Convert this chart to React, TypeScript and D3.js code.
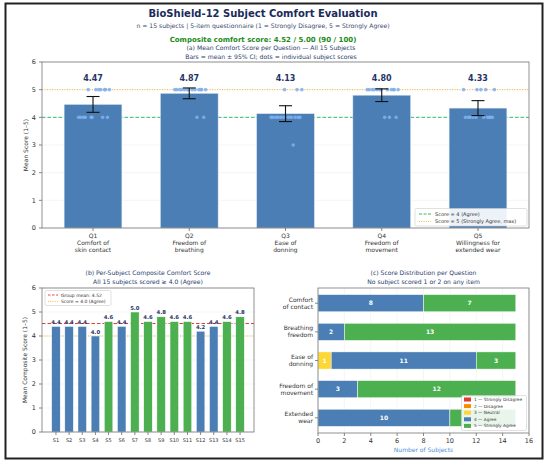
import * as d3 from 'd3'

const questionLabels = [
  ['Q1', 'Comfort of', 'skin contact'],
  ['Q2', 'Freedom of', 'breathing'],
  ['Q3', 'Ease of', 'donning'],
  ['Q4', 'Freedom of', 'movement'],
  ['Q5', 'Willingness for', 'extended wear'],
]
const rowLabels = [
  ['Comfort', 'of contact'],
  ['Breathing', 'freedom'],
  ['Ease of', 'donning'],
  ['Freedom of', 'movement'],
  ['Extended', 'wear'],
]
const subjects = d3.range(1, 16).map(i => `S${i}`)

// item scores per subject (S1..S15)
const q1Scores = [4, 4, 4, 4, 5, 4, 5, 5, 5, 4, 5, 5, 4, 5, 4]
const q2Scores = [5, 5, 5, 4, 5, 5, 5, 5, 5, 5, 5, 4, 5, 5, 5]
const q3Scores = [4, 4, 4, 4, 4, 4, 5, 4, 5, 4, 4, 3, 4, 4, 5]
const q4Scores = [5, 5, 5, 4, 5, 5, 5, 5, 5, 5, 4, 4, 5, 5, 5]
const q5Scores = [4, 4, 4, 4, 4, 4, 5, 4, 4, 5, 5, 5, 4, 4, 5]
const allScores = [q1Scores, q2Scores, q3Scores, q4Scores, q5Scores]

// horizontal offsets of the subject dots
const jitter = [-0.13, 0.1, -0.02, 0.15, 0.06, -0.1, 0.17, -0.05, 0.12, -0.15, 0.03, 0.08, -0.08, 0.13, -0.01]
const tCrit = 2.145

const levels = [1, 2, 3, 4, 5]
const levelNames = ['1 — Strongly Disagree', '2 — Disagree', '3 — Neutral', '4 — Agree', '5 — Strongly Agree']
const levelColors = ['#e53935', '#fb8c00', '#fdd835', '#4a7eb5', '#4caf50']

const BLUE = '#4a7eb5'
const GREEN = '#4caf50'
const FONT = 'DejaVu Sans'
const NAVY = '#1f3566'
const TXT = '#333'
const AGREE_GREEN = '#2ebd6b'
const MAX_ORANGE = '#f7b733'

const means = allScores.map(s => d3.mean(s) as number)
const ciHalf = allScores.map(s => tCrit * (d3.deviation(s) as number) / Math.sqrt(s.length))
const composite = subjects.map((_, i) => d3.mean(allScores.map(q => q[i])) as number)
const groupMean = d3.mean(composite) as number
const counts = allScores.map(s => levels.map(l => s.filter(v => v === l).length))

const PanelA = () => {
  const x = d3.scaleLinear().domain([-0.53, 4.53]).range([42, 529])
  const y = d3.scaleLinear().domain([0, 6]).range([228, 62])
  const bw = x(0.3) - x(0)
  return (
    <g>
      {y.ticks(6).map(t => (
        <g key={t}>
          <line x1={42} x2={529} y1={y(t)} y2={y(t)} stroke="#eee" strokeWidth={0.6} />
          <line x1={39} x2={42} y1={y(t)} y2={y(t)} stroke="#555" strokeWidth={0.7} />
          <text x={36} y={y(t)} dy="0.35em" textAnchor="end" fontSize={6.5} fill={TXT}>{t}</text>
        </g>
      ))}
      <line x1={42} x2={529} y1={y(4)} y2={y(4)} stroke={AGREE_GREEN} strokeWidth={1} strokeDasharray="3.5,2" />
      {means.map((m, i) => (
        <rect key={i} x={x(i) - bw} width={bw * 2} y={y(m)} height={y(0) - y(m)} fill={BLUE} stroke="#dfe8f2" strokeWidth={0.5} />
      ))}
      <line x1={42} x2={529} y1={y(5)} y2={y(5)} stroke={MAX_ORANGE} strokeWidth={1} strokeDasharray="1,1.5" />
      {allScores.map((s, i) =>
        s.map((v, j) => (
          <circle key={`${i}-${j}`} cx={x(i + jitter[j])} cy={y(v)} r={1.8} fill="#7fb0ec" opacity={0.85} />
        ))
      )}
      {means.map((m, i) => (
        <g key={i} stroke="#111" strokeWidth={1.1}>
          <line x1={x(i)} x2={x(i)} y1={y(m - ciHalf[i])} y2={y(m + ciHalf[i])} />
          <line x1={x(i) - 6.5} x2={x(i) + 6.5} y1={y(m - ciHalf[i])} y2={y(m - ciHalf[i])} />
          <line x1={x(i) - 6.5} x2={x(i) + 6.5} y1={y(m + ciHalf[i])} y2={y(m + ciHalf[i])} />
        </g>
      ))}
      {means.map((m, i) => (
        <text key={i} x={x(i)} y={y(5.32)} textAnchor="middle" fontSize={8} fontWeight="bold" fill={NAVY}>{m.toFixed(2)}</text>
      ))}
      {questionLabels.map((lines, i) => (
        <g key={i}>
          <line x1={x(i)} x2={x(i)} y1={228} y2={231} stroke="#555" strokeWidth={0.7} />
          <text x={x(i)} y={238} textAnchor="middle" fontSize={6} fill={TXT}>
            {lines.map((l, k) => <tspan key={k} x={x(i)} dy={k === 0 ? 0 : 7}>{l}</tspan>)}
          </text>
        </g>
      ))}
      <rect x={42} y={62} width={487} height={166} fill="none" stroke="#777" strokeWidth={0.8} />
      <text transform={`translate(28,${y(3)}) rotate(-90)`} textAnchor="middle" fontSize={6} fill={TXT}>Mean Score (1–5)</text>
      <g>
        <rect x={415} y={208.5} width={112} height={17.5} fill="white" fillOpacity={0.9} stroke="#ccc" strokeWidth={0.6} rx={1.5} />
        <line x1={419} x2={431} y1={214} y2={214} stroke={AGREE_GREEN} strokeWidth={1} strokeDasharray="3,1.5" />
        <text x={435} y={214} dy="0.35em" fontSize={5} fill={TXT}>Score = 4  (Agree)</text>
        <line x1={419} x2={431} y1={221.5} y2={221.5} stroke={MAX_ORANGE} strokeWidth={1} strokeDasharray="1,1.3" />
        <text x={435} y={221.5} dy="0.35em" fontSize={5} fill={TXT}>Score = 5  (Strongly Agree, max)</text>
      </g>
    </g>
  )
}

const PanelB = () => {
  const x = d3.scaleLinear().domain([-1.06, 15.06]).range([42, 254])
  const y = d3.scaleLinear().domain([0, 6]).range([432, 288])
  const hw = (x(0.65) - x(0)) / 2
  return (
    <g>
      {y.ticks(6).map(t => (
        <g key={t}>
          <line x1={42} x2={254} y1={y(t)} y2={y(t)} stroke="#eee" strokeWidth={0.6} />
          <line x1={39} x2={42} y1={y(t)} y2={y(t)} stroke="#555" strokeWidth={0.7} />
          <text x={36} y={y(t)} dy="0.35em" textAnchor="end" fontSize={6.5} fill={TXT}>{t}</text>
        </g>
      ))}
      <line x1={42} x2={254} y1={y(4)} y2={y(4)} stroke={MAX_ORANGE} strokeWidth={1} strokeDasharray="1,1.3" />
      <line x1={42} x2={254} y1={y(groupMean)} y2={y(groupMean)} stroke="#e53935" strokeWidth={1} strokeDasharray="3.5,2" />
      {composite.map((c, i) => (
        <g key={i}>
          <rect x={x(i) - hw} width={hw * 2} y={y(c)} height={y(0) - y(c)} fill={c >= 4.5 ? GREEN : BLUE} stroke="white" strokeWidth={0.5} />
          <text x={x(i)} y={y(c) - 2.5} textAnchor="middle" fontSize={5.3} fontWeight="bold" fill={NAVY}>{c.toFixed(1)}</text>
          <line x1={x(i)} x2={x(i)} y1={432} y2={435} stroke="#555" strokeWidth={0.7} />
          <text x={x(i)} y={442} textAnchor="middle" fontSize={5} fill={TXT}>{subjects[i]}</text>
        </g>
      ))}
      <rect x={42} y={288} width={212} height={144} fill="none" stroke="#777" strokeWidth={0.8} />
      <text transform={`translate(27,${y(3)}) rotate(-90)`} textAnchor="middle" fontSize={6} fill={TXT}>Mean Composite Score (1–5)</text>
      <g>
        <rect x={45} y={290.5} width={66} height={15} fill="white" fillOpacity={0.9} stroke="#ccc" strokeWidth={0.6} rx={1.5} />
        <line x1={48} x2={58} y1={295} y2={295} stroke="#e53935" strokeWidth={0.9} strokeDasharray="2.5,1.5" />
        <text x={61} y={295} dy="0.35em" fontSize={4.5} fill={TXT}>Group mean: {groupMean.toFixed(2)}</text>
        <line x1={48} x2={58} y1={301.5} y2={301.5} stroke={MAX_ORANGE} strokeWidth={0.9} strokeDasharray="1,1.2" />
        <text x={61} y={301.5} dy="0.35em" fontSize={4.5} fill={TXT}>Score = 4.0  (Agree)</text>
      </g>
    </g>
  )
}

const legendC = { x: 461.5, y: 395.5, w: 65, h: 35 }

const PanelC = () => {
  const x = d3.scaleLinear().domain([0, 16]).range([318, 529])
  const y = d3.scaleLinear().domain([-0.53, 4.53]).range([288, 433])
  const hh = (y(0.6) - y(0)) / 2
  const underLegend = (cx: number, cy: number) =>
    cx > legendC.x && cx < legendC.x + legendC.w && cy > legendC.y && cy < legendC.y + legendC.h
  return (
    <g>
      {x.ticks(8).map(t => (
        <g key={t}>
          <line x1={x(t)} x2={x(t)} y1={288} y2={433} stroke="#eee" strokeWidth={0.6} />
          <line x1={x(t)} x2={x(t)} y1={433} y2={436} stroke="#555" strokeWidth={0.7} />
          <text x={x(t)} y={443} textAnchor="middle" fontSize={6.5} fill={TXT}>{t}</text>
        </g>
      ))}
      {counts.map((row, i) => {
        let acc = 0
        return (
          <g key={i}>
            {row.map((n, k) => {
              const x0 = acc
              acc += n
              if (n === 0) return null
              const cx = (x(x0) + x(x0 + n)) / 2
              return (
                <g key={k}>
                  <rect x={x(x0)} width={x(x0 + n) - x(x0)} y={y(i) - hh} height={hh * 2} fill={levelColors[k]} stroke="white" strokeWidth={0.5} />
                  {!underLegend(cx, y(i)) && (
                    <text x={cx} y={y(i)} dy="0.35em" textAnchor="middle" fontSize={6} fontWeight="bold" fill="white">{n}</text>
                  )}
                </g>
              )
            })}
            <line x1={315} x2={318} y1={y(i)} y2={y(i)} stroke="#555" strokeWidth={0.7} />
            <text x={313} y={y(i) - 3.5} textAnchor="end" fontSize={6} fill={TXT}>
              {rowLabels[i].map((l, k) => <tspan key={k} x={313} dy={k === 0 ? '0.35em' : 7}>{l}</tspan>)}
            </text>
          </g>
        )
      })}
      <rect x={318} y={288} width={211} height={145} fill="none" stroke="#777" strokeWidth={0.8} />
      <text x={423.5} y={452} textAnchor="middle" fontSize={6} fill="#4a90d9">Number of Subjects</text>
      <g>
        <rect x={legendC.x} y={legendC.y} width={legendC.w} height={legendC.h} fill="white" fillOpacity={0.88} stroke="#ccc" strokeWidth={0.6} rx={1.5} />
        {levelNames.map((name, k) => (
          <g key={k}>
            <rect x={464} y={397.5 + k * 6.6} width={7} height={4} fill={levelColors[k]} />
            <text x={474} y={399.5 + k * 6.6} dy="0.35em" fontSize={4.3} fill={TXT}>{name}</text>
          </g>
        ))}
      </g>
    </g>
  )
}

export default function App() {
  return (
    <div style={{ position: 'absolute', left: 0, top: 0 }}>
      <svg width={550} height={466} fontFamily={FONT} style={{ display: 'block', background: 'white', whiteSpace: 'pre' }}>
        <rect x={0} y={0} width={550} height={466} fill="white" />
        <rect x={5.5} y={3.5} width={537} height={455} fill="none" stroke="#222" strokeWidth={2} />
        <text x={263} y={17} textAnchor="middle" fontSize={10} fontWeight="bold" fill="#1b2a5c">BioShield-12 Subject Comfort Evaluation</text>
        <text x={263} y={28} textAnchor="middle" fontSize={6.1} fill="#3b4a70">n = 15 subjects  |  5-item questionnaire  (1 = Strongly Disagree,  5 = Strongly Agree)</text>
        <text x={263} y={41.5} textAnchor="middle" fontSize={7} fontWeight="bold" fill="#1a8a1a">Composite comfort score:  {groupMean.toFixed(2)} / 5.00   ({Math.round(groupMean / 5 * 100)} / 100)</text>
        <text x={271} y={50} textAnchor="middle" fontSize={6.1} fill="#2c3e70">(a)  Mean Comfort Score per Question — All 15 Subjects</text>
        <text x={271} y={58.5} textAnchor="middle" fontSize={6.1} fill="#2c3e70">Bars = mean ± 95% CI;  dots = individual subject scores</text>
        <PanelA />
        <text x={148} y={275} textAnchor="middle" fontSize={6.1} fill="#2c3e70">(b)  Per-Subject Composite Comfort Score</text>
        <text x={148} y={283.5} textAnchor="middle" fontSize={6.1} fill="#2c3e70">All 15 subjects scored ≥ 4.0  (Agree)</text>
        <PanelB />
        <text x={423.5} y={275} textAnchor="middle" fontSize={6.1} fill="#2c3e70">(c)  Score Distribution per Question</text>
        <text x={423.5} y={283.5} textAnchor="middle" fontSize={6.1} fill="#2c3e70">No subject scored 1 or 2 on any item</text>
        <PanelC />
      </svg>
    </div>
  )
}
